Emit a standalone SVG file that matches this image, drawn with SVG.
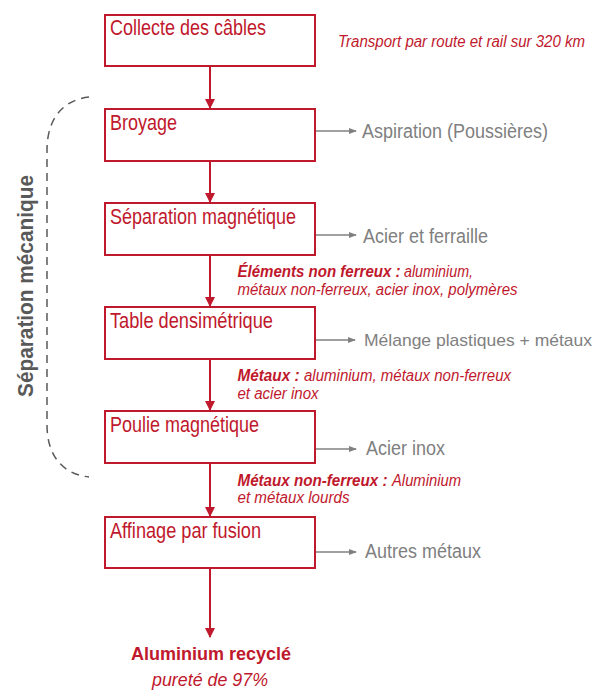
<svg xmlns="http://www.w3.org/2000/svg" width="603" height="691" viewBox="0 0 603 691">
<style>
.box{fill:#fff;stroke:#C0182C;stroke-width:2}
.bt{font-family:"Liberation Sans",Arial,sans-serif;font-size:22px;fill:#C0182C}
.gt{font-family:"Liberation Sans",Arial,sans-serif;font-size:20px;fill:#808080}
.gs{font-size:17px}
.it{font-family:"Liberation Sans",Arial,sans-serif;font-size:16px;font-style:italic;fill:#C0182C}
.ib{font-weight:bold}
.red{stroke:#C0182C;stroke-width:2;fill:none}
.gray{stroke:#808080;stroke-width:1.5;fill:none}
</style>
<defs>
<marker id="ar" markerWidth="10" markerHeight="10" refX="9" refY="5" orient="auto" markerUnits="userSpaceOnUse"><path d="M0,0 L10,5 L0,10 Z" fill="#C0182C"/></marker>
<marker id="ag" markerWidth="8" markerHeight="8" refX="7" refY="4" orient="auto" markerUnits="userSpaceOnUse"><path d="M0,1 L8,4 L0,7 Z" fill="#808080"/></marker>
</defs>

<g id="connectors">
<line class="red" x1="210" y1="66" x2="210" y2="108" marker-end="url(#ar)"/>
<line class="red" x1="210" y1="161" x2="210" y2="202" marker-end="url(#ar)"/>
<line class="red" x1="210" y1="255" x2="210" y2="306" marker-end="url(#ar)"/>
<line class="red" x1="210" y1="359" x2="210" y2="410" marker-end="url(#ar)"/>
<line class="red" x1="210" y1="463" x2="210" y2="516" marker-end="url(#ar)"/>
<line class="red" x1="210" y1="568" x2="210" y2="637" marker-end="url(#ar)"/>
<line class="gray" x1="316" y1="131" x2="356" y2="131" marker-end="url(#ag)"/>
<line class="gray" x1="316" y1="235" x2="356" y2="235" marker-end="url(#ag)"/>
<line class="gray" x1="316" y1="340" x2="355" y2="340" marker-end="url(#ag)"/>
<line class="gray" x1="316" y1="449" x2="356" y2="449" marker-end="url(#ag)"/>
<line class="gray" x1="316" y1="552" x2="356" y2="552" marker-end="url(#ag)"/>
</g>

<g id="bracket">
<path d="M89,97 C62,100 47,120 47,150 L47,425 C47,455 62,474 89,477" fill="none" stroke="#595959" stroke-width="1.5" stroke-dasharray="8,6"/>
<text transform="translate(33,286) rotate(-90)" text-anchor="middle" font-family="'Liberation Sans',Arial,sans-serif" font-size="22" font-weight="bold" fill="#595959" textLength="222" lengthAdjust="spacingAndGlyphs">Séparation mécanique</text>
</g>

<g id="n1"><rect class="box" x="105" y="15" width="210" height="51"/><text class="bt" x="110" y="35" textLength="156" lengthAdjust="spacingAndGlyphs">Collecte des câbles</text></g>
<g id="n1note"><text class="it" x="338" y="47" textLength="247" lengthAdjust="spacingAndGlyphs">Transport par route et rail sur 320 km</text></g>

<g id="n2"><rect class="box" x="105" y="109" width="210" height="52"/><text class="bt" x="110" y="130" textLength="67" lengthAdjust="spacingAndGlyphs">Broyage</text></g>
<g id="o2"><text class="gt" x="362" y="138" textLength="186" lengthAdjust="spacingAndGlyphs">Aspiration (Poussières)</text></g>

<g id="n3"><rect class="box" x="105" y="203" width="210" height="52"/><text class="bt" x="110" y="224" textLength="186" lengthAdjust="spacingAndGlyphs">Séparation magnétique</text></g>
<g id="o3"><text class="gt" x="363" y="243" textLength="125" lengthAdjust="spacingAndGlyphs">Acier et ferraille</text></g>
<g id="l3">
<text class="it ib" x="237.5" y="277" textLength="163" lengthAdjust="spacingAndGlyphs">Éléments non ferreux :</text>
<text class="it" x="404" y="277" textLength="69" lengthAdjust="spacingAndGlyphs">aluminium,</text>
<text class="it" x="237.5" y="295" textLength="280" lengthAdjust="spacingAndGlyphs">métaux non-ferreux, acier inox, polymères</text>
</g>

<g id="n4"><rect class="box" x="105" y="307" width="210" height="52"/><text class="bt" x="110" y="328" textLength="163" lengthAdjust="spacingAndGlyphs">Table densimétrique</text></g>
<g id="o4"><text class="gt gs" x="364" y="346" textLength="228" lengthAdjust="spacingAndGlyphs">Mélange plastiques + métaux</text></g>
<g id="l4">
<text class="it ib" x="237.5" y="381" textLength="62" lengthAdjust="spacingAndGlyphs">Métaux :</text>
<text class="it" x="304" y="381" textLength="207" lengthAdjust="spacingAndGlyphs">aluminium, métaux non-ferreux</text>
<text class="it" x="237.5" y="399" textLength="81" lengthAdjust="spacingAndGlyphs">et acier inox</text>
</g>

<g id="n5"><rect class="box" x="105" y="411" width="210" height="52"/><text class="bt" x="110" y="432" textLength="149" lengthAdjust="spacingAndGlyphs">Poulie magnétique</text></g>
<g id="o5"><text class="gt" x="366" y="455" textLength="79" lengthAdjust="spacingAndGlyphs">Acier inox</text></g>
<g id="l5">
<text class="it ib" x="237.5" y="486" textLength="150" lengthAdjust="spacingAndGlyphs">Métaux non-ferreux :</text>
<text class="it" x="392" y="486" textLength="69" lengthAdjust="spacingAndGlyphs">Aluminium</text>
<text class="it" x="237.5" y="503" textLength="112" lengthAdjust="spacingAndGlyphs">et métaux lourds</text>
</g>

<g id="n6"><rect class="box" x="105" y="517" width="210" height="51"/><text class="bt" x="110" y="538" textLength="151" lengthAdjust="spacingAndGlyphs">Affinage par fusion</text></g>
<g id="o6"><text class="gt" x="365" y="558" textLength="116" lengthAdjust="spacingAndGlyphs">Autres métaux</text></g>

<g id="result">
<text x="131" y="660" font-family="'Liberation Sans',Arial,sans-serif" font-size="19" font-weight="bold" fill="#C0182C" textLength="160" lengthAdjust="spacingAndGlyphs">Aluminium recyclé</text>
<text x="152" y="686" font-family="'Liberation Sans',Arial,sans-serif" font-size="19" font-style="italic" fill="#C0182C" textLength="116" lengthAdjust="spacingAndGlyphs">pureté de 97%</text>
</g>
</svg>
